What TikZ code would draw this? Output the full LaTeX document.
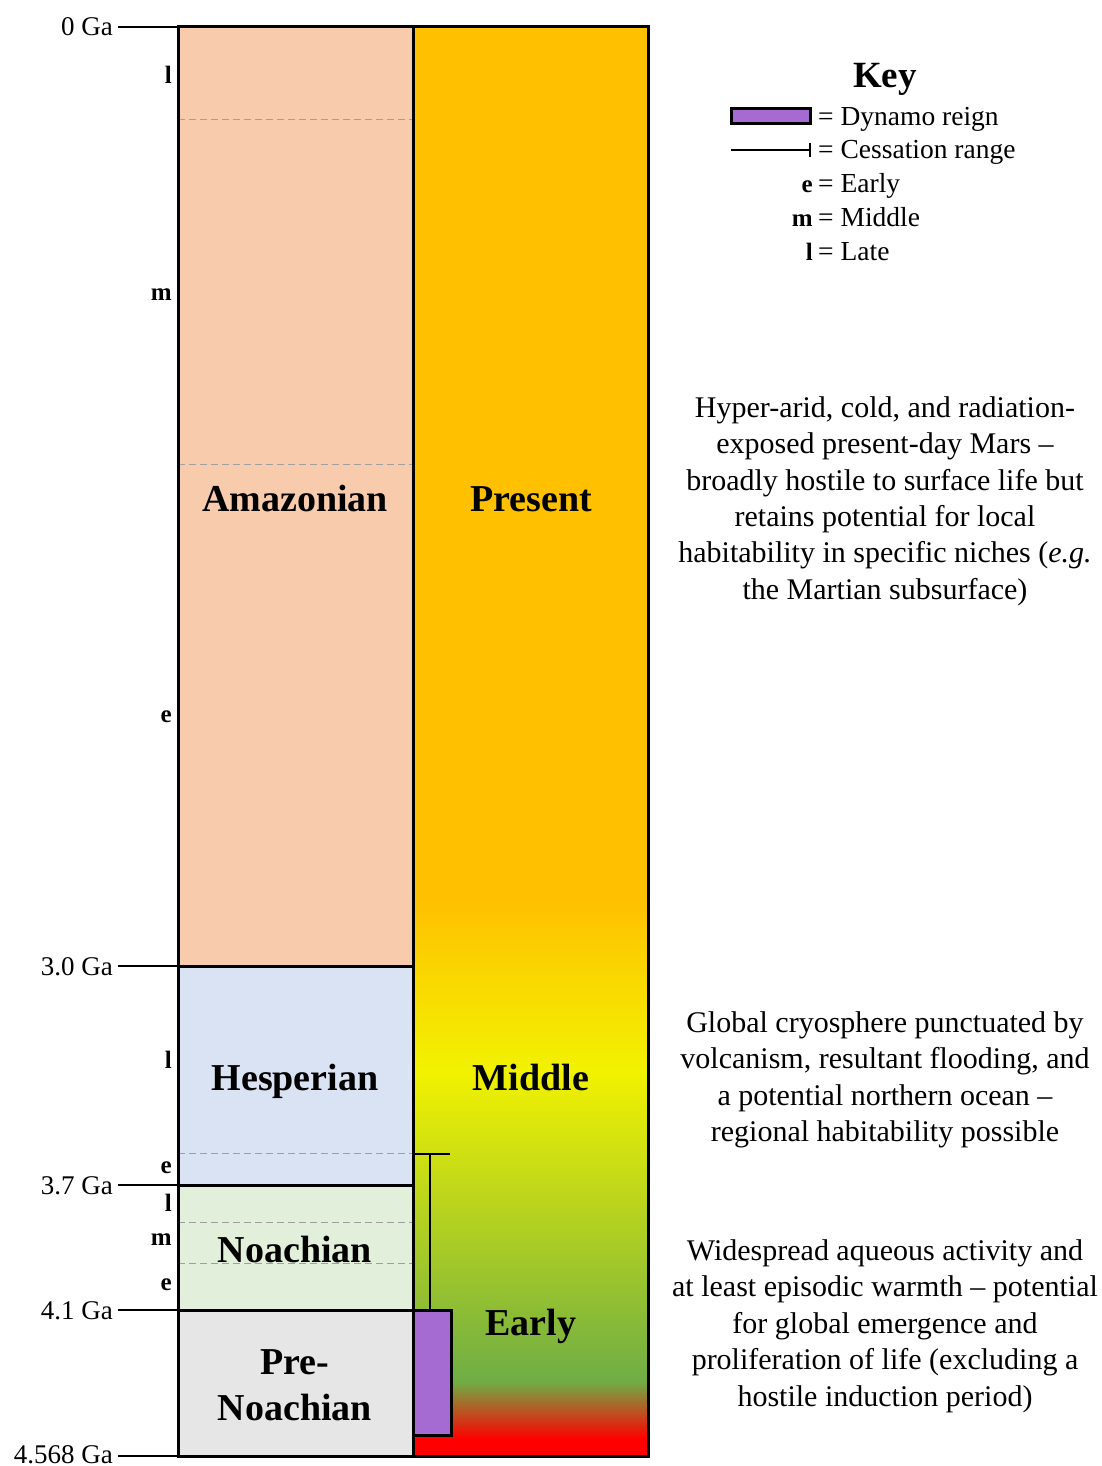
\documentclass[tikz,border=0pt]{standalone}
\usepackage{fontspec}
\setmainfont{Liberation Serif}
\definecolor{amazPeach}{HTML}{F8CBAD}
\definecolor{hespBlue}{HTML}{DAE3F3}
\definecolor{noachGreen}{HTML}{E2EFDA}
\definecolor{preGray}{HTML}{E7E6E6}
\definecolor{dynPurple}{HTML}{A56BD2}
\definecolor{climOrange}{HTML}{FFC000}
\definecolor{climYellow}{HTML}{F2F200}
\definecolor{climGreen}{HTML}{6FAD45}
\definecolor{climRed}{HTML}{FF0000}
\pgfdeclareverticalshading{marsClimate}{100bp}{color(0bp)=(climRed); color(25bp)=(climRed); color(25.6bp)=(climRed); color(27.6bp)=(climGreen); color(38.5bp)=(climYellow); color(44.5bp)=(climOrange); color(75bp)=(climOrange); color(100bp)=(climOrange)}

\begin{document}
\begin{tikzpicture}[x=1pt, y=-1pt,
    era/.style={font=\fontsize{38}{46}\selectfont\bfseries, align=center, inner sep=0pt},
    sub/.style={font=\fontsize{25}{28}\selectfont\bfseries, anchor=east, inner sep=0pt},
    age/.style={font=\fontsize{27}{32}\selectfont, anchor=base east, inner sep=0pt},
    keytxt/.style={font=\fontsize{27.5}{32}\selectfont, anchor=base west, inner sep=0pt},
    note/.style={font=\fontsize{30}{36.4}\selectfont, align=center, inner sep=0pt},
    split/.style={gray!75, line width=1pt, dash pattern=on 7pt off 4pt},
    edge/.style={line width=3pt}]
  \useasboundingbox (0,0) rectangle (1102,1466);

  % eras
  \fill[amazPeach] (178,27) rectangle (413,966);
  \fill[hespBlue] (178,966) rectangle (413,1185);
  \fill[noachGreen] (178,1185) rectangle (413,1310);
  \fill[preGray] (178,1310) rectangle (413,1456);
  \shade[shading=marsClimate] (413,27) rectangle (648,1456);

  % early / middle / late splits
  \foreach \y in {120,464,1153,1222,1263}
    \draw[split] (178,\y) -- (413,\y);

  % ages
  \foreach \y/\t/\lab in {27/0/0 Ga, 966/30/3.0 Ga, 1185/37/3.7 Ga, 1310/41/4.1 Ga, 1456/4568/4.568 Ga} {
    \coordinate (tick\t) at (118,\y);
    \coordinate (edge\t) at (178,\y);
    \draw[line width=2pt] (tick\t) -- (edge\t);
    \node[age] (age\t) at (113,{min(\y+9,1463)}) {\lab};
  }
  \foreach \t in {30,37,41}
    \draw[edge] (edge\t) -- ++(235,0);
  \draw[edge] (178,27) rectangle (648,1456);
  \draw[edge] (413,27) -- (413,1456);

  \foreach \y/\s in {75/l, 295/m, 717/e, 1060/l, 1168/e, 1203/l, 1240/m, 1285/e}
    \node[sub] at (172,\y) {\s};

  \node[era, anchor=base] (amaz) at (295,511) {Amazonian};
  \node[era, anchor=base] (hesp) at (295,1090) {Hesperian};
  \node[era, anchor=base] (noach) at (295,1262) {Noachian};
  \node[era] (prenoach) at (295,1385) {Pre-\\Noachian};
  \node[era, anchor=base] (present) at (531,511) {Present};
  \node[era, anchor=base] (middle) at (531,1090) {Middle};
  \node[era, anchor=base] (early) at (531,1335) {Early};

  % dynamo and cessation
  \draw[edge, fill=dynPurple] (413,1310) rectangle (451,1435);
  \coordinate (stopTop) at (430,1154);
  \coordinate (stopEnd) at (430,1310);
  \draw[line width=2.5pt] (stopTop) -- (stopEnd);
  \draw[line width=2.5pt] (413,1154) -- (450,1154);

  % key
  \node[font=\fontsize{37}{40}\selectfont\bfseries] (keyhead) at (885,79) {Key};
  \draw[edge, fill=dynPurple] (731,109) rectangle (810,124);
  \node[keytxt] (kdyn) at (818,126) {= Dynamo reign};
  \coordinate (cesA) at (731,150);
  \coordinate (cesB) at (810,150);
  \draw[line width=2.5pt] (cesA) -- (cesB);
  \draw[line width=2pt] (810,143) -- (810,157);
  \node[keytxt] (kces) at (818,159) {= Cessation range};
  \node[keytxt] (ke) at (818,193) {= Early};
  \node[keytxt] (km) at (818,226) {= Middle};
  \node[keytxt] (kl) at (818,260) {= Late};
  \node[sub, anchor=base east] at (813,193) {e};
  \node[sub, anchor=base east] at (813,226) {m};
  \node[sub, anchor=base east] at (813,260) {l};

  % habitability notes
  \node[note] (noteA) at (885,501) {Hyper-arid, cold, and radiation-\\exposed present-day Mars --\\broadly hostile to surface life but\\retains potential for local\\habitability in specific niches (\emph{e.g.}\\the Martian subsurface)};
  \node[note] (noteB) at (885,1080) {Global cryosphere punctuated by\\volcanism, resultant flooding, and\\a potential northern ocean --\\regional habitability possible};
  \node[note] (noteC) at (885,1326) {Widespread aqueous activity and\\at least episodic warmth -- potential\\for global emergence and\\proliferation of life (excluding a\\hostile induction period)};
\end{tikzpicture}
\end{document}
